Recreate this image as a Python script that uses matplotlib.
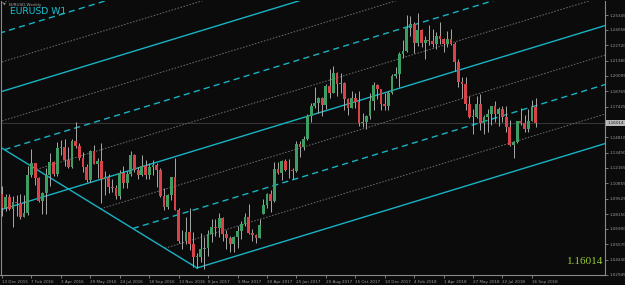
import matplotlib
matplotlib.use("Agg")
import matplotlib.pyplot as plt
import numpy as np
import matplotlib.transforms as mtransforms

# ---------------- data (weekly EURUSD, week of 13 Dec 2015 .. 23 Sep 2018) ----------------
opens = [1.0988, 1.0867, 1.0965, 1.0859, 1.0920, 1.0915, 1.0797, 1.0831, 1.1156, 1.1257,
         1.1131, 1.0932, 1.1003, 1.1153, 1.1268, 1.1166, 1.1390, 1.1399, 1.1281, 1.1226,
         1.1452, 1.1402, 1.1306, 1.1223, 1.1114, 1.1366, 1.1252, 1.1277, 1.1117, 1.1136,
         1.1051, 1.1040, 1.0976, 1.1175, 1.1087, 1.1161, 1.1325, 1.1199, 1.1155, 1.1233,
         1.1155, 1.1226, 1.1240, 1.1202, 1.0971, 1.0883, 1.0981, 1.1140, 1.0853, 1.0588,
         1.0586, 1.0665, 1.0560, 1.0450, 1.0452, 1.0517, 1.0530, 1.0644, 1.0703, 1.0699,
         1.0784, 1.0643, 1.0615, 1.0561, 1.0620, 1.0672, 1.0736, 1.0796, 1.0652, 1.0642,
         1.0613, 1.0820, 1.0896, 1.0995, 1.0932, 1.1207, 1.1176, 1.1280, 1.1195, 1.1198,
         1.1194, 1.1425, 1.1399, 1.1469, 1.1665, 1.1747, 1.1774, 1.1820, 1.1760, 1.1923,
         1.1860, 1.2035, 1.1944, 1.1950, 1.1812, 1.1731, 1.1822, 1.1785, 1.1606, 1.1608,
         1.1665, 1.1794, 1.1933, 1.1893, 1.1768, 1.1748, 1.1859, 1.2005, 1.2029, 1.2199,
         1.2223, 1.2426, 1.2458, 1.2293, 1.2406, 1.2295, 1.2317, 1.2307, 1.2287, 1.2352,
         1.2324, 1.2282, 1.2331, 1.2288, 1.2129, 1.1959, 1.1940, 1.1768, 1.1658, 1.1659,
         1.1770, 1.1605, 1.1655, 1.1684, 1.1748, 1.1685, 1.1720, 1.1658, 1.1567, 1.1411,
         1.1438, 1.1622, 1.1601, 1.1553, 1.1625, 1.1745]
highs = [1.1060, 1.0991, 1.0994, 1.0971, 1.0986, 1.0990, 1.0986, 1.1237, 1.1376, 1.1263,
         1.1135, 1.1010, 1.1218, 1.1342, 1.1277, 1.1438, 1.1453, 1.1465, 1.1398, 1.1464,
         1.1616, 1.1432, 1.1350, 1.1246, 1.1373, 1.1416, 1.1298, 1.1427, 1.1186, 1.1166,
         1.1120, 1.1069, 1.1199, 1.1234, 1.1189, 1.1366, 1.1340, 1.1225, 1.1327, 1.1284,
         1.1258, 1.1281, 1.1258, 1.1212, 1.1039, 1.0988, 1.1142, 1.1299, 1.0870, 1.0685,
         1.0796, 1.0874, 1.0668, 1.0485, 1.0654, 1.0621, 1.0685, 1.0775, 1.0775, 1.0829,
         1.0791, 1.0679, 1.0628, 1.0630, 1.0714, 1.0760, 1.0826, 1.0906, 1.0692, 1.0648,
         1.0776, 1.0951, 1.0998, 1.1023, 1.1268, 1.1268, 1.1285, 1.1296, 1.1296, 1.1214,
         1.1445, 1.1446, 1.1489, 1.1682, 1.1777, 1.1910, 1.1825, 1.1828, 1.1940, 1.2070,
         1.2092, 1.2040, 1.2034, 1.1955, 1.1815, 1.1880, 1.1860, 1.1880, 1.1690, 1.1675,
         1.1861, 1.1961, 1.1940, 1.1900, 1.1863, 1.1880, 1.2023, 1.2089, 1.2219, 1.2323,
         1.2537, 1.2523, 1.2476, 1.2556, 1.2410, 1.2355, 1.2446, 1.2413, 1.2388, 1.2476,
         1.2338, 1.2396, 1.2414, 1.2298, 1.2152, 1.1996, 1.1996, 1.1834, 1.1728, 1.1839,
         1.1852, 1.1676, 1.1720, 1.1750, 1.1791, 1.1743, 1.1750, 1.1746, 1.1626, 1.1445,
         1.1623, 1.1734, 1.1671, 1.1721, 1.1803, 1.1815]
lows = [1.0805, 1.0849, 1.0852, 1.0711, 1.0804, 1.0778, 1.0795, 1.0811, 1.1135, 1.1067,
        1.0920, 1.0823, 1.0822, 1.1057, 1.1144, 1.1143, 1.1327, 1.1232, 1.1216, 1.1217,
        1.1384, 1.1286, 1.1177, 1.1097, 1.1098, 1.1250, 1.1130, 1.0912, 1.0981, 1.1001,
        1.1009, 1.0952, 1.0952, 1.1045, 1.1046, 1.1147, 1.1182, 1.1123, 1.1148, 1.1121,
        1.1123, 1.1152, 1.1048, 1.0966, 1.0852, 1.0859, 1.0941, 1.0850, 1.0570, 1.0518,
        1.0561, 1.0505, 1.0365, 1.0351, 1.0405, 1.0341, 1.0453, 1.0577, 1.0627, 1.0617,
        1.0589, 1.0521, 1.0494, 1.0494, 1.0524, 1.0601, 1.0713, 1.0648, 1.0589, 1.0570,
        1.0610, 1.0818, 1.0869, 1.0838, 1.0922, 1.1161, 1.1109, 1.1194, 1.1131, 1.1119,
        1.1185, 1.1312, 1.1371, 1.1454, 1.1612, 1.1730, 1.1688, 1.1662, 1.1724, 1.1822,
        1.1858, 1.1837, 1.1862, 1.1717, 1.1669, 1.1730, 1.1730, 1.1574, 1.1573, 1.1555,
        1.1640, 1.1712, 1.1812, 1.1717, 1.1718, 1.1714, 1.1851, 1.1995, 1.1916, 1.2165,
        1.2214, 1.2356, 1.2206, 1.2268, 1.2260, 1.2155, 1.2272, 1.2259, 1.2239, 1.2281,
        1.2215, 1.2260, 1.2278, 1.2055, 1.1911, 1.1823, 1.1717, 1.1646, 1.1510, 1.1644,
        1.1540, 1.1509, 1.1527, 1.1590, 1.1613, 1.1575, 1.1614, 1.1530, 1.1408, 1.1301,
        1.1431, 1.1586, 1.1526, 1.1526, 1.1621, 1.1571]
closes = [1.0867, 1.0965, 1.0859, 1.0920, 1.0915, 1.0797, 1.0831, 1.1156, 1.1257, 1.1131,
          1.0932, 1.1003, 1.1153, 1.1268, 1.1166, 1.1390, 1.1399, 1.1281, 1.1226, 1.1452,
          1.1402, 1.1306, 1.1223, 1.1114, 1.1366, 1.1252, 1.1277, 1.1117, 1.1136, 1.1051,
          1.1040, 1.0976, 1.1175, 1.1087, 1.1161, 1.1325, 1.1199, 1.1155, 1.1233, 1.1155,
          1.1226, 1.1240, 1.1202, 1.0971, 1.0883, 1.0981, 1.1140, 1.0853, 1.0588, 1.0586,
          1.0665, 1.0560, 1.0450, 1.0452, 1.0517, 1.0530, 1.0644, 1.0703, 1.0699, 1.0784,
          1.0643, 1.0615, 1.0561, 1.0620, 1.0672, 1.0736, 1.0796, 1.0652, 1.0642, 1.0613,
          1.0725, 1.0896, 1.0995, 1.0932, 1.1207, 1.1176, 1.1280, 1.1195, 1.1198, 1.1194,
          1.1425, 1.1399, 1.1469, 1.1665, 1.1747, 1.1774, 1.1820, 1.1760, 1.1923, 1.1860,
          1.2035, 1.1944, 1.1950, 1.1812, 1.1731, 1.1822, 1.1785, 1.1606, 1.1608, 1.1665,
          1.1794, 1.1933, 1.1893, 1.1768, 1.1748, 1.1859, 1.2005, 1.2029, 1.2199, 1.2223,
          1.2426, 1.2458, 1.2293, 1.2406, 1.2295, 1.2317, 1.2307, 1.2287, 1.2352, 1.2324,
          1.2282, 1.2331, 1.2288, 1.2129, 1.1959, 1.1940, 1.1768, 1.1658, 1.1659, 1.1770,
          1.1605, 1.1655, 1.1684, 1.1748, 1.1685, 1.1720, 1.1658, 1.1567, 1.1411, 1.1438,
          1.1622, 1.1601, 1.1553, 1.1625, 1.1745, 1.16014]

time_labels = ['13 Dec 2015', '7 Feb 2016', '3 Apr 2016', '29 May 2016', '24 Jul 2016',
               '18 Sep 2016', '13 Nov 2016', '8 Jan 2017', '5 Mar 2017', '30 Apr 2017',
               '25 Jun 2017', '20 Aug 2017', '15 Oct 2017', '10 Dec 2017', '4 Feb 2018',
               '1 Apr 2018', '27 May 2018', '22 Jul 2018', '16 Sep 2018']
time_label_step = 8  # weeks between labels

price_ticks = [1.25345, 1.24058, 1.22720, 1.21380, 1.20095, 1.18765, 1.17425, 1.14810,
               1.13490, 1.12165, 1.10855, 1.09525, 1.08150, 1.06900, 1.05570, 1.04240, 1.02945]
current_price = 1.16014

# channel (pitchfork-like) drawing parameters
median_start = 1.08588     # median line price at first bar
channel_slope = 0.000967   # price per bar
channel_step = 0.02543     # spacing between sub-lines
handle_start = 1.13863     # handle line price at first bar
handle_slope = -0.001948
line_levels = list(range(-4, 8))

# ---------------- style ----------------
BG = '#0b0b0b'
CYAN = '#17b3c4'
GRID_GRAY = '#6e6e6e'
TXT = '#9a9a9a'
BULL = '#3c9e62'
BEAR = '#d8434a'
WICK = '#a8a8a8'

W, H = 625, 285
fig = plt.figure(figsize=(W / 100, H / 100), dpi=100, facecolor=BG)
ax = fig.add_axes([0.5 / W, 1 - 275 / H, 604.5 / W, 274 / H])
ax.set_facecolor(BG)

n = len(opens)
t = np.arange(n)
o = np.array(opens); h = np.array(highs); l = np.array(lows); c = np.array(closes)

xmax = 163.86
ax.set_xlim(-0.41, xmax)
ax.set_ylim(1.02933, 1.26552)

# current price line
ax.axhline(current_price, color='#353535', lw=0.8, zorder=1)

# channel lines
t_vertex = (handle_start - median_start + 4 * channel_step) / (channel_slope - handle_slope)
for k in line_levels:
    if k in (0,) or k >= 3:
        t0 = -1
    else:
        t0 = (handle_start - median_start - k * channel_step) / (channel_slope - handle_slope)
    seg = np.array([t0, xmax])
    yy = median_start + channel_slope * seg + k * channel_step
    if k % 4 == 0:
        ax.plot(seg, yy, color=CYAN, lw=1.0, zorder=2)
    elif k % 2 == 0:
        ax.plot(seg, yy, color=CYAN, lw=1.0, dashes=(4.5, 3), zorder=2)
    else:
        ax.plot(seg, yy, color=GRID_GRAY, lw=0.7, dashes=(1.6, 1.6), zorder=2)
hseg = np.array([-1, t_vertex])
ax.plot(hseg, handle_start + handle_slope * hseg, color=CYAN, lw=1.0, zorder=2)

# candles
ax.vlines(t, l, h, color=WICK, lw=0.7, zorder=3)
up = c >= o
body_lo = np.minimum(o, c)
body_h = np.maximum(np.abs(c - o), 0.0004)
ax.bar(t[up], body_h[up], bottom=body_lo[up], width=0.75, color=BULL, edgecolor='none', zorder=4)
ax.bar(t[~up], body_h[~up], bottom=body_lo[~up], width=0.75, color=BEAR, edgecolor='none', zorder=4)

# axes styling
ax.spines['top'].set_visible(False)
for s in ['left', 'right', 'bottom']:
    ax.spines[s].set_color('#8a8a8a')
    ax.spines[s].set_linewidth(0.8)

ax.yaxis.tick_right()
ax.set_yticks(price_ticks)
ax.set_yticklabels([f'{v:.5f}' for v in price_ticks])
ax.tick_params(axis='y', colors='#8a8a8a', labelcolor=TXT, labelsize=3.0, length=2, width=0.6, pad=1)

ax.set_xticks(t[::time_label_step][:len(time_labels)])
ax.set_xticklabels(time_labels)
ax.tick_params(axis='x', colors='#8a8a8a', labelcolor=TXT, labelsize=3.0, length=2.5, width=0.6, pad=1)
for lab in ax.get_xticklabels():
    lab.set_horizontalalignment('left')

# current price marker on axis
trans = mtransforms.blended_transform_factory(ax.transAxes, ax.transData)
ax.text(1.004, current_price, f'{current_price:.5f}', transform=trans, fontsize=3.0,
        color='#202020', va='center', ha='left',
        bbox=dict(boxstyle='square,pad=0.25', fc='#b8b8b8', ec='none'), zorder=10, clip_on=False)

# titles
fig.text(3 / W, 1 - 5 / H, '\u25bc', fontsize=2.5, color='#a0a0a0', va='center', ha='left')
fig.text(9 / W, 1 - 5 / H, 'EURUSD,Weekly', fontsize=3.0, color='#a0a0a0', va='center', ha='left')
fig.text(10 / W, 1 - 12 / H, 'EURUSD W1', fontsize=6.7, color='#19c3d6', va='center', ha='left')
fig.text(603 / W, 1 - 262 / H, '1.16014', fontsize=8, color='#9acd32', va='center', ha='right',
         family='Liberation Serif')

fig.savefig('out.png', dpi=100, facecolor=BG)
